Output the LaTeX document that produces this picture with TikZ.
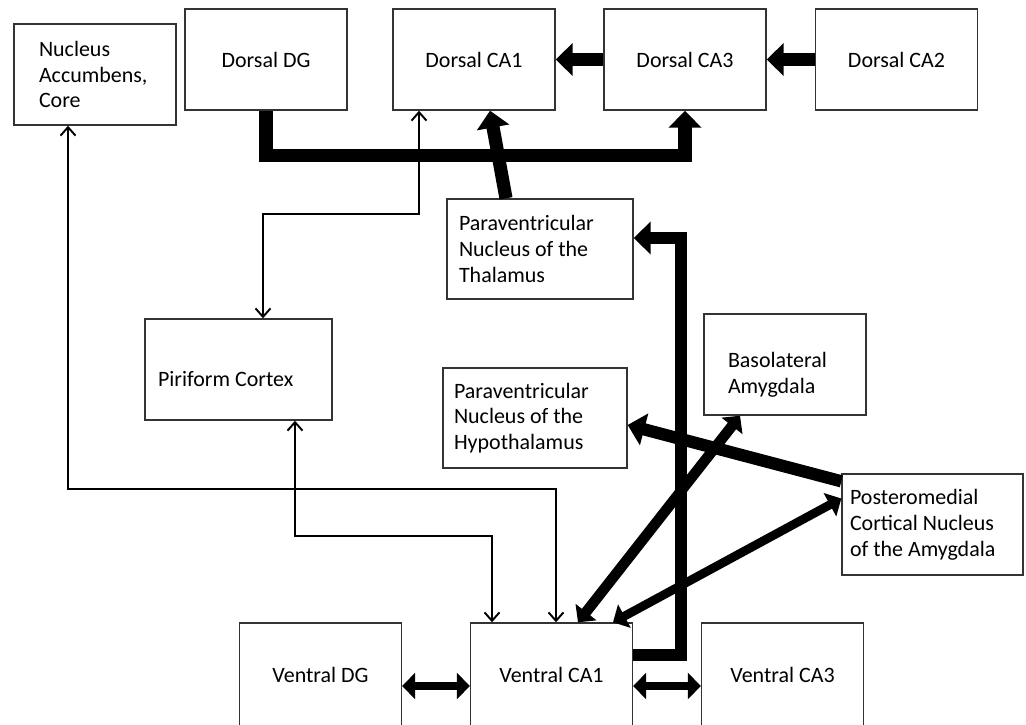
\documentclass[tikz,border=0pt]{standalone}
\usepackage{fontspec}
\setmainfont{Carlito}
\usetikzlibrary{arrows.meta,positioning,calc}

\begin{document}
\begin{tikzpicture}[x=0.02cm,y=-0.02cm,
  box/.style={draw=black!80,line width=0.8pt,minimum width=3.24cm,minimum height=2.02cm,inner sep=2pt,
    font=\fontsize{12.5}{14.7}\selectfont},
  thinarrow/.style={line width=1.1pt,{Straight Barb[length=1.7mm,width=3mm]}-{Straight Barb[length=1.7mm,width=3mm]}},
  bigarrow/.style={line width=#1,-{Triangle[length=3.4mm,width=6.4mm]}},
  bigarrow/.default=7.5pt,
  twoway/.style={line width=#1,{Triangle[length=2.6mm,width=5.2mm]}-{Triangle[length=2.6mm,width=5.2mm]}},
  twoway/.default=6pt]

%Page
\useasboundingbox[fill=white] (0,0) rectangle (1026,724);

%Dorsal row
\node[box,align=flush left,text width=2.24cm] (nacc) at (95,74.5) {Nucleus\\Accumbens,\\Core};
\node[box] (ddg) at (266,59.5) {Dorsal DG};
\node[box] (dca1) at (474,59.5) {Dorsal CA1};
\node[box] (dca3) at (685,59.5) {Dorsal CA3};
\node[box] (dca2) at (896.5,59.5) {Dorsal CA2};

%Middle boxes
\node[box,minimum width=3.72cm,minimum height=2cm,align=flush left,text width=3.24cm] (pvt) at (540,249) {Paraventricular\\Nucleus of the\\Thalamus};
\node[box,minimum width=3.74cm,align=flush left,text width=3.22cm,text height=0.7cm] (piri) at (238.5,369.5) {Piriform Cortex};
\node[box,minimum width=3.68cm,minimum height=2cm,align=flush left,text width=3.24cm] (pvh) at (535,418) {Paraventricular\\Nucleus of the\\Hypothalamus};
\node[box,align=flush left,text width=2.28cm,text height=0.7cm] (bla) at (785,364.5) {Basolateral\\Amygdala};
\node[box,minimum width=3.62cm,align=flush left,text width=3.3cm] (pmco) at (932.5,524.5) {Posteromedial\\Cortical Nucleus\\of the Amygdala};

%Ventral row
\node[box,minimum height=2.08cm] (vdg) at (320.5,675) {Ventral DG};
\node[box,minimum height=2.08cm] (vca1) at (551.5,675) {Ventral CA1};
\node[box,minimum height=2.08cm] (vca3) at (782.5,675) {Ventral CA3};

%Thin connections
\draw[thinarrow] ([xshift=-0.54cm]nacc.south) -- ++(0,363) -| ([xshift=0.09cm]vca1.north);
\draw[thinarrow] ([xshift=1.13cm]piri.south) -- ++(0,115) -| ([xshift=-1.19cm]vca1.north);
\draw[thinarrow] ([xshift=-1.1cm]dca1.south) -- ++(0,103) -| ([xshift=0.49cm]piri.north);

%Thick connections
\draw[bigarrow] (ddg.south) -- ++(0,45) -| (dca3.south);
\draw[bigarrow] (dca3) -- (dca1);
\draw[bigarrow] (dca2) -- (dca3);
\draw[bigarrow] ([xshift=-0.68cm]pvt.north) -- ([xshift=0.32cm]dca1.south);
\draw[bigarrow=6.5pt] ([yshift=0.4cm]vca1.east) -- ++(48,0) |- ([yshift=0.22cm]pvt.east);
\draw[bigarrow=7pt] ([yshift=-0.16cm]pmco.north west) -- ([yshift=-0.14cm]pvh.east);
\draw[twoway] ([xshift=0.53cm]vca1.north) -- ([xshift=-0.9cm]bla.south);
\draw[twoway=5pt] ([xshift=1.23cm]vca1.north) -- ([yshift=0.52cm]pmco.west);
\draw[twoway=5pt] ([yshift=-0.22cm]vdg.east) -- ([yshift=-0.22cm]vca1.west);
\draw[twoway=5pt] ([yshift=-0.22cm]vca1.east) -- ([yshift=-0.22cm]vca3.west);

\end{tikzpicture}
\end{document}
